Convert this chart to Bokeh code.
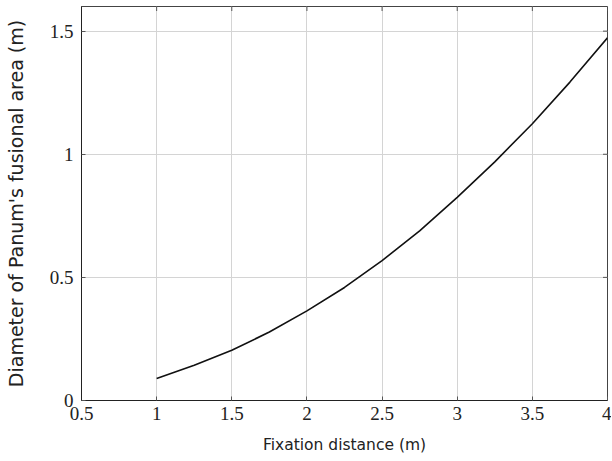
import math
from bokeh.plotting import figure
from bokeh.models import FixedTicker, Range1d
from bokeh.embed import file_html
from bokeh.resources import INLINE

# Data
distance = [1.0, 1.25, 1.5, 1.75, 2.0, 2.25, 2.5, 2.75, 3.0, 3.25, 3.5, 3.75, 4.0]
diameter = [0.089, 0.143, 0.204, 0.278, 0.364, 0.459, 0.568, 0.689, 0.825, 0.969, 1.124, 1.293, 1.473]

x_ticks = [0.5, 1, 1.5, 2, 2.5, 3, 3.5, 4]
x_tick_labels = ["0.5", "1", "1.5", "2", "2.5", "3", "3.5", "4"]
y_ticks = [0, 0.5, 1, 1.5]
y_tick_labels = ["0", "0.5", "1", "1.5"]
x_min, x_max = 0.5, 4
y_min, y_max = 0, 1.6

SERIF = "Liberation Serif"
SANS = "DejaVu Sans"

p = figure(width=611, height=460, output_backend="svg", toolbar_location=None,
           x_range=Range1d(x_min, x_max), y_range=Range1d(y_min, y_max),
           min_border_left=81, min_border_right=4, min_border_top=6, min_border_bottom=60)

p.line(distance, diameter, line_color="#111111", line_width=1.6, line_join="round")

# mirrored inward ticks on the top and right edges (clipped to the frame)
p.scatter(x_ticks, [y_max] * len(x_ticks), marker="dash", angle=math.pi / 2, size=9,
          line_color="#555555", line_width=1)
p.scatter([x_max] * len(y_ticks), y_ticks, marker="dash", size=9,
          line_color="#555555", line_width=1)

p.outline_line_color = "#444444"
p.outline_line_width = 1
p.background_fill_color = "white"
p.border_fill_color = "white"

for ax, ticks, labels in ((p.xaxis[0], x_ticks, x_tick_labels), (p.yaxis[0], y_ticks, y_tick_labels)):
    ax.ticker = FixedTicker(ticks=ticks)
    ax.major_label_overrides = {t: l for t, l in zip(ticks, labels)}
    ax.minor_tick_line_color = None
    ax.major_tick_in = 4
    ax.major_tick_out = 0
    ax.major_tick_line_color = "#555555"
    ax.axis_line_color = "#222222"
    ax.major_label_text_font = SERIF
    ax.major_label_text_font_size = "19px"
    ax.major_label_text_color = "#222222"
    ax.axis_label_text_font = SANS
    ax.axis_label_text_font_style = "normal"
    ax.axis_label_text_color = "#222222"

p.xaxis[0].axis_label = "Fixation distance (m)"
p.yaxis[0].axis_label = "Diameter of Panum's fusional area (m)"
p.xaxis[0].axis_label_text_font_size = "15.5px"
p.yaxis[0].axis_label_text_font_size = "19px"
p.xaxis[0].major_label_standoff = 6
p.xaxis[0].axis_label_standoff = 13
p.yaxis[0].major_label_standoff = 8
p.yaxis[0].axis_label_standoff = 20

p.xgrid.ticker = FixedTicker(ticks=x_ticks)
p.ygrid.ticker = FixedTicker(ticks=y_ticks)
p.grid.grid_line_color = "#d4d4d4"
p.grid.grid_line_width = 1

open("out.html", "w").write(file_html(p, INLINE))
